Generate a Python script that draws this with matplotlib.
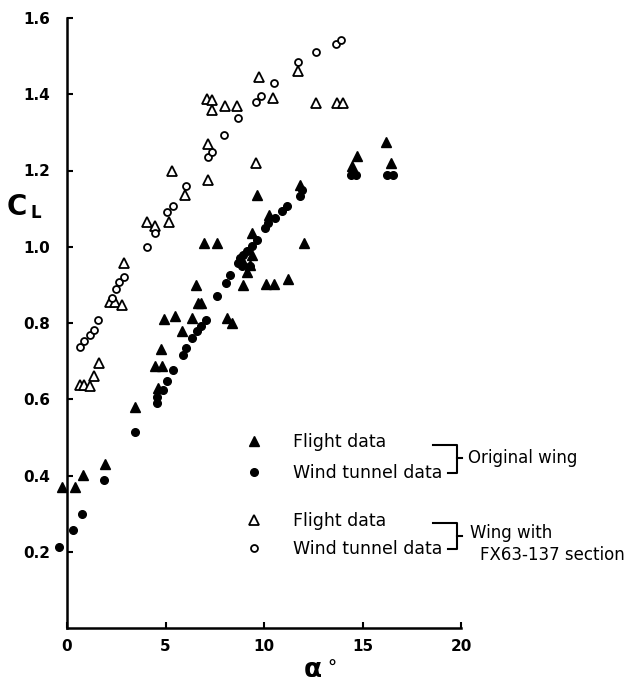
import matplotlib
matplotlib.use("Agg")
import matplotlib.pyplot as plt
from matplotlib.lines import Line2D

# original wing, flight data (filled triangles)
flt_orig_x = [-0.27, 0.41, 0.83, 1.93, 3.45, 4.47, 4.84, 4.64, 4.77, 4.94, 5.48, 5.82,
              6.33, 6.67, 6.79, 6.55, 6.97, 7.63, 8.11, 8.36, 8.95, 10.10, 10.52, 11.20,
              8.93, 9.29, 9.14, 9.39, 9.41, 9.63, 10.27, 11.83, 12.03, 14.45, 14.71,
              16.19, 16.43]
flt_orig_y = [0.371, 0.371, 0.402, 0.430, 0.579, 0.688, 0.688, 0.629, 0.731, 0.810, 0.819, 0.778,
              0.814, 0.852, 0.852, 0.900, 1.010, 1.010, 0.813, 0.800, 0.900, 0.903, 0.903, 0.916,
              0.961, 0.953, 0.934, 0.979, 1.036, 1.137, 1.084, 1.163, 1.010, 1.211, 1.238,
              1.274, 1.220]

# original wing, wind tunnel data (filled circles)
wt_orig_x = [-0.41, 0.32, 0.78, 1.89, 3.45, 4.58, 4.58, 4.86, 5.06, 5.40, 5.90, 6.04,
             6.33, 6.58, 6.80, 7.06, 7.63, 8.08, 8.29, 8.70, 8.78, 8.87, 8.95, 9.12,
             9.29, 9.37, 9.63, 10.05, 10.22, 10.56, 10.90, 11.15, 11.83, 11.91,
             14.40, 14.68, 16.25, 16.55]
wt_orig_y = [0.213, 0.257, 0.299, 0.388, 0.515, 0.590, 0.607, 0.625, 0.649, 0.677, 0.717, 0.734,
             0.760, 0.778, 0.791, 0.808, 0.871, 0.906, 0.925, 0.957, 0.970, 0.949, 0.979, 0.988,
             0.949, 1.001, 1.018, 1.049, 1.062, 1.075, 1.093, 1.106, 1.134, 1.150,
             1.187, 1.187, 1.189, 1.189]

# FX63-137 wing, flight data (open triangles)
flt_fx_x = [0.66, 0.88, 1.15, 1.37, 1.61, 2.18, 2.44, 2.78, 2.91, 4.06, 4.47, 5.19,
            5.33, 6.00, 7.12, 7.38, 7.36, 8.04, 8.65, 7.14, 7.16, 9.76, 10.44, 9.59,
            11.71, 12.62, 13.69, 13.99]
flt_fx_y = [0.638, 0.638, 0.635, 0.662, 0.695, 0.854, 0.854, 0.848, 0.957, 1.064, 1.054, 1.066,
            1.198, 1.137, 1.388, 1.384, 1.360, 1.370, 1.368, 1.270, 1.176, 1.446, 1.390, 1.220,
            1.461, 1.377, 1.377, 1.377]

# FX63-137 wing, wind tunnel data (open circles)
wt_fx_x = [0.66, 0.88, 1.15, 1.37, 1.57, 2.27, 2.49, 2.66, 2.88, 4.06, 4.47, 5.09,
           5.36, 6.04, 7.14, 7.36, 7.97, 8.68, 9.58, 9.83, 10.51, 11.74, 12.62, 13.64, 13.92]
wt_fx_y = [0.738, 0.753, 0.769, 0.782, 0.808, 0.865, 0.890, 0.907, 0.921, 1.000, 1.036, 1.092,
           1.106, 1.160, 1.235, 1.248, 1.294, 1.339, 1.379, 1.396, 1.430, 1.484, 1.510, 1.533, 1.542]

x_ticks = [0, 5, 10, 15, 20]
y_ticks = [0.2, 0.4, 0.6, 0.8, 1.0, 1.2, 1.4, 1.6]

W, H = 628, 689
AX_L, AX_R, AX_T, AX_B = 67, 461, 18, 628


def px2ax(px, py):
    # pixel position in the figure -> axes fraction
    return (px - AX_L) / (AX_R - AX_L), (AX_B - py) / (AX_B - AX_T)


plt.rcParams['font.family'] = ['DejaVu Sans']

fig = plt.figure(figsize=(W / 100, H / 100), dpi=100)
ax = fig.add_axes([AX_L / W, 1 - AX_B / H, (AX_R - AX_L) / W, (AX_B - AX_T) / H])

filled_tri = dict(marker='^', markersize=7, color='black', linestyle='none')
filled_circ = dict(marker='o', markersize=5.5, color='black', linestyle='none')
open_tri = dict(marker='^', markersize=6.5, color='black', markerfacecolor='white',
                markeredgewidth=1.3, linestyle='none')
open_circ = dict(marker='o', markersize=5, color='black', markerfacecolor='white',
                 markeredgewidth=1.3, linestyle='none')

ax.plot(flt_orig_x, flt_orig_y, clip_on=False, **filled_tri)
ax.plot(wt_orig_x, wt_orig_y, clip_on=False, **filled_circ)
ax.plot(flt_fx_x, flt_fx_y, clip_on=False, **open_tri)
ax.plot(wt_fx_x, wt_fx_y, clip_on=False, **open_circ)

ax.set_xlim(0, 20)
ax.set_ylim(0, 1.6)
ax.set_xticks(x_ticks)
ax.set_xticklabels([str(t) for t in x_ticks])
ax.set_yticks(y_ticks)
ax.set_yticklabels(['%.1f' % t for t in y_ticks])
for s in ('top', 'right'):
    ax.spines[s].set_visible(False)
for s in ('left', 'bottom'):
    ax.spines[s].set_linewidth(1.8)
ax.tick_params(direction='in', length=4, width=1.5, labelsize=11)
ax.tick_params(axis='y', pad=12)
ax.tick_params(axis='x', pad=8)
for lbl in ax.get_xticklabels() + ax.get_yticklabels():
    lbl.set_fontweight('bold')

fig.text(7 / W, 1 - 207 / H, 'C', fontsize=20, fontweight='bold', ha='left', va='center')
fig.text(30 / W, 1 - 213 / H, 'L', fontsize=12, fontweight='bold', ha='left', va='center')
fig.text(313 / W, 1 - 670 / H, 'α', fontsize=19, fontweight='bold', ha='center', va='center')
fig.text(332 / W, 1 - 669 / H, '°', fontsize=13, fontweight='bold', ha='center', va='center')

# legends with brackets
h1 = [Line2D([], [], **filled_tri), Line2D([], [], **filled_circ)]
h2 = [Line2D([], [], **open_tri), Line2D([], [], **open_circ)]
labels = ['Flight data', 'Wind tunnel data']
common = dict(frameon=False, loc='center left', fontsize=12.5, borderpad=0,
              borderaxespad=0, handlelength=0.9, handletextpad=1.8)
leg1 = ax.legend(h1, labels, bbox_to_anchor=px2ax(246, 457.5), labelspacing=0.75, **common)
ax.add_artist(leg1)
ax.legend(h2, labels, bbox_to_anchor=px2ax(246, 535), labelspacing=0.6, **common)

for top, bot, mid in ((445, 473, 458), (522.5, 549, 536)):
    bx = [px2ax(433, top)[0], px2ax(457, top)[0], px2ax(457, bot)[0], px2ax(448, bot)[0]]
    by = [px2ax(433, top)[1], px2ax(457, top)[1], px2ax(457, bot)[1], px2ax(448, bot)[1]]
    ax.plot(bx, by, color='black', lw=1.5, transform=ax.transAxes, clip_on=False)
    ax.plot([px2ax(457, mid)[0], px2ax(462, mid)[0]], [px2ax(457, mid)[1]] * 2,
            color='black', lw=1.5, transform=ax.transAxes, clip_on=False)

ax.text(*px2ax(468, 458), 'Original wing', fontsize=12, ha='left', va='center',
        transform=ax.transAxes)
ax.text(*px2ax(470, 533), 'Wing with', fontsize=12, ha='left', va='center',
        transform=ax.transAxes)
ax.text(*px2ax(480, 555), 'FX63-137 section', fontsize=12, ha='left', va='center',
        transform=ax.transAxes)

fig.savefig('out.png', dpi=100)
